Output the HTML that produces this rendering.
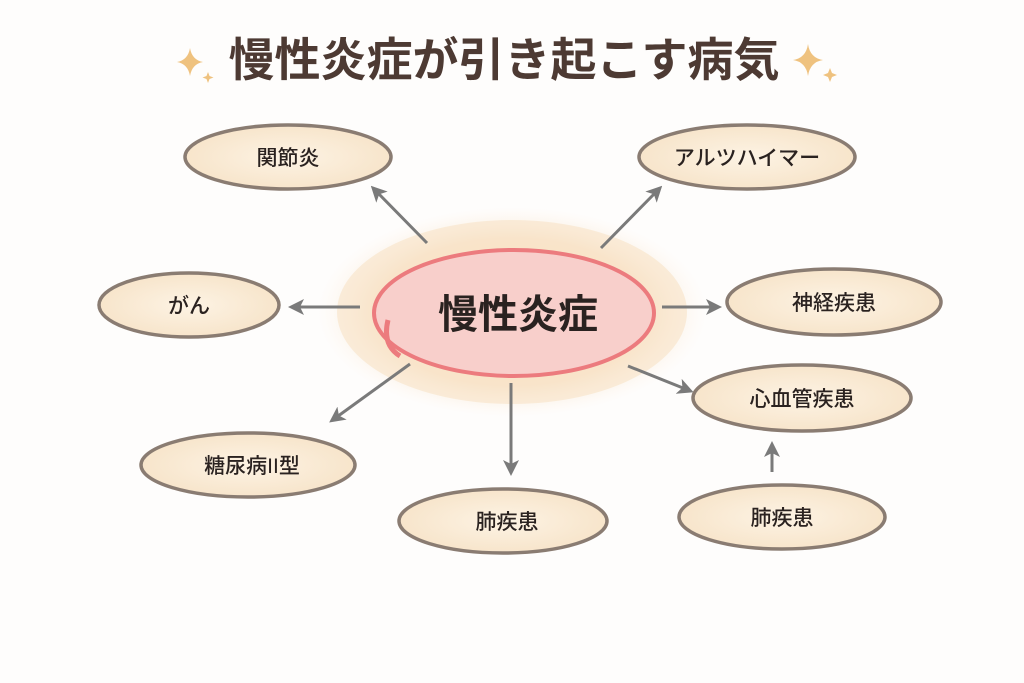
<!DOCTYPE html>
<html><head><meta charset="utf-8"><style>
html,body{margin:0;padding:0;background:#fff;}
svg{display:block;}
text{font-family:"Liberation Sans","Noto Sans CJK JP",sans-serif;}
</style></head><body>
<svg width="1024" height="683" viewBox="0 0 1024 683" xmlns="http://www.w3.org/2000/svg">
<defs>
<radialGradient id="cloud" cx="50%" cy="50%" r="50%">
<stop offset="0%" stop-color="#f7dcc0"/><stop offset="70%" stop-color="#f9e6cf"/><stop offset="100%" stop-color="#fdf5ec" stop-opacity="0"/>
</radialGradient>
<radialGradient id="node" cx="50%" cy="50%" r="60%">
<stop offset="0%" stop-color="#fdf3e4"/><stop offset="100%" stop-color="#f6e2c6"/>
</radialGradient>
<marker id="ah" markerWidth="16" markerHeight="16" refX="10" refY="8" orient="auto" markerUnits="userSpaceOnUse" viewBox="0 0 16 16">
<path d="M0,0 L16,8 L0,16 L4,8 Z" fill="#7a7a7a"/>
</marker>
</defs>
<rect width="1024" height="683" fill="#fefdfc"/>
<text x="504" y="76" text-anchor="middle" font-size="46" font-weight="bold" fill="#4d3a33">慢性炎症が引き起こす病気</text>
<path d="M190,48 Q192,60 203,62 Q192,64 190,76 Q188,64 177,62 Q188,60 190,48Z" fill="#efc27f"/>
<path d="M208,72 l1.5,4 l4,1.5 l-4,1.5 l-1.5,4 l-1.5,-4 l-4,-1.5 l4,-1.5Z" fill="#efc27f"/>
<path d="M808,44 Q810,58 823,60 Q810,62 808,76 Q806,62 793,60 Q806,58 808,44Z" fill="#efc27f"/>
<path d="M830,68 l2,5 l5,2 l-5,2 l-2,5 l-2,-5 l-5,-2 l5,-2Z" fill="#efc27f"/>
<ellipse cx="512" cy="312" rx="195" ry="105" fill="url(#cloud)"/>
<ellipse cx="512" cy="312" rx="175" ry="92" fill="#f8e2c6" opacity="0.6"/>
<ellipse cx="514" cy="313" rx="140" ry="63" fill="#f8cfcb" stroke="#ec7b7e" stroke-width="4"/>
<path d="M388,320 Q382,345 400,356" fill="none" stroke="#ec7b7e" stroke-width="5"/>
<text x="518" y="328" text-anchor="middle" font-size="40" font-weight="bold" fill="#2a2220">慢性炎症</text>
<g stroke="#7a7a7a" stroke-width="3" fill="none" marker-end="url(#ah)">
<line x1="427" y1="243" x2="375" y2="190"/>
<line x1="601" y1="248" x2="658" y2="190"/>
<line x1="360" y1="307" x2="294" y2="307"/>
<line x1="662" y1="307" x2="716" y2="307"/>
<line x1="410" y1="364" x2="334" y2="419"/>
<line x1="511" y1="383" x2="511" y2="470"/>
<line x1="628" y1="366" x2="688" y2="390"/>
<line x1="772" y1="472" x2="772" y2="447"/>
</g>
<g fill="url(#node)" stroke="#8a7c72" stroke-width="3.5">
<ellipse cx="288" cy="157" rx="103" ry="32"/>
<ellipse cx="747" cy="157" rx="108" ry="32"/>
<ellipse cx="189" cy="305" rx="90" ry="32"/>
<ellipse cx="834" cy="302" rx="107" ry="33"/>
<ellipse cx="802" cy="398" rx="109" ry="33"/>
<ellipse cx="248" cy="465" rx="107" ry="32"/>
<ellipse cx="503" cy="521" rx="104" ry="32"/>
<ellipse cx="782" cy="517" rx="103" ry="32"/>
</g>
<g font-size="21" fill="#2a2220" text-anchor="middle" font-weight="500">
<text x="288" y="165">関節炎</text>
<text x="747" y="165">アルツハイマー</text>
<text x="189" y="313">がん</text>
<text x="834" y="310">神経疾患</text>
<text x="802" y="406">心血管疾患</text>
<text x="252" y="473">糖尿病II型</text>
<text x="507" y="529">肺疾患</text>
<text x="782" y="525">肺疾患</text>
</g>
</svg>
</body></html>
